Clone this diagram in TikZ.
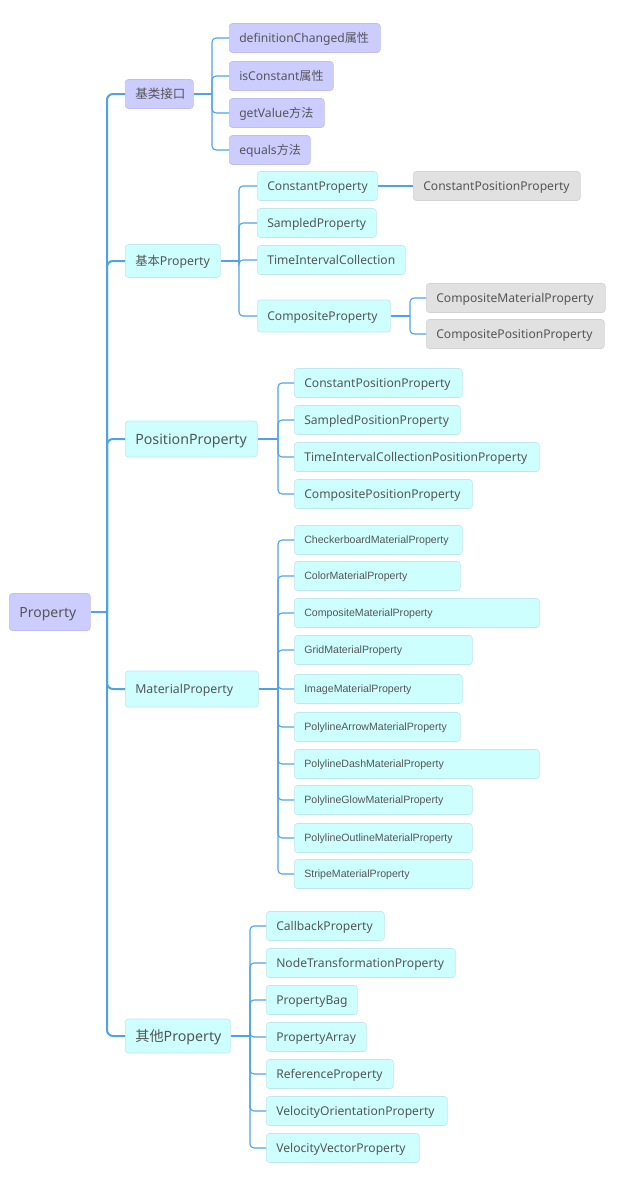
\documentclass[tikz,border=0pt]{standalone}
\usepackage{fontspec}
\setmainfont{Noto Sans}
\newfontfamily\cjk{Noto Sans CJK SC}
\newfontfamily\arialf{Liberation Sans}
\lefthyphenmin=64
\righthyphenmin=64
\definecolor{lav}{RGB}{204,204,255}
\definecolor{lavline}{RGB}{192,190,240}
\definecolor{cy}{RGB}{206,255,255}
\definecolor{cyline}{RGB}{192,230,238}
\definecolor{gr}{RGB}{225,225,225}
\definecolor{grline}{RGB}{210,210,210}
\definecolor{conn}{RGB}{78,163,230}
\definecolor{txt}{RGB}{85,85,85}
\tikzset{
  box/.style={rounded corners=3pt, anchor=west, inner xsep=10pt, inner ysep=0pt,
    minimum height=29pt, align=left, text=txt, line width=0.6pt,
    font=\fontsize{12.1}{14}\selectfont, text height=8.6pt, text depth=0pt},
  lavbox/.style={box, fill=lav, draw=lavline},
  cybox/.style={box, fill=cy, draw=cyline},
  grbox/.style={box, fill=gr, draw=grline},
  matbox/.style={cybox, font=\arialf\fontsize{10.6}{12}\selectfont, text height=7.6pt},
  big/.style={font=\fontsize{#1}{16}\selectfont, text height=0.714*#1pt},
  link/.style={draw=conn, line width=1.1pt, rounded corners=4pt},
  trunk/.style={draw=conn, line width=2pt, rounded corners=6pt},
}
\begin{document}
\begin{tikzpicture}[x=1pt,y=-1pt]
\useasboundingbox (0,0) rectangle (619,1200);
% root
\node[lavbox, minimum height=37pt, text width=61pt, font=\fontsize{14}{16}\selectfont, text height=10pt] (root) at (9,612) {Property};
% level 1
\node[lavbox, text width=48pt, font=\fontsize{12.5}{15}\selectfont, text height=9pt] (b1) at (125,94) {\cjk 基类接口};
\node[cybox, minimum height=33pt, text width=75pt, font=\fontsize{12.3}{15}\selectfont, text height=8.8pt] (b2) at (125,261) {{\cjk 基本}Property};
\node[cybox, minimum height=36pt, text width=112pt, font=\fontsize{14.2}{16}\selectfont, text height=10.1pt] (b3) at (125,439) {PositionProperty};
\node[cybox, minimum height=36pt, text width=113pt, font=\fontsize{12.3}{15}\selectfont, text height=8.8pt] (b4) at (125,689) {MaterialProperty};
\node[cybox, minimum height=34pt, text width=85pt, font=\fontsize{14.2}{16}\selectfont, text height=10.1pt] (b5) at (125,1036) {{\cjk 其他}Property};
% trunk
\coordinate (tk) at (107,612);
\draw[trunk] (root.east) -- (tk);
\foreach \n in {b1,b2,b3,b4,b5} \draw[trunk] (tk) |- (\n.west);
% base interface children
\node[lavbox, text width=131pt] (c11) at (229,38) {definitionChanged{\cjk 属性}};
\node[lavbox, text width=84pt] (c12) at (229,76) {isConstant{\cjk 属性}};
\node[lavbox, text width=75pt] (c13) at (229,113) {getValue{\cjk 方法}};
\node[lavbox, text width=61pt] (c14) at (229,150) {equals{\cjk 方法}};
\coordinate (k1) at (212,94);
\draw[link] (b1.east) -- (k1);
\foreach \n in {c11,c12,c13,c14} \draw[link] (k1) |- (\n.west);
% basic property children
\node[cybox, text width=100pt] (c21) at (257,186) {ConstantProperty};
\node[cybox, text width=99pt] (c22) at (257,223) {SampledProperty};
\node[cybox, text width=128pt] (c23) at (257,260) {TimeIntervalCollection};
\node[cybox, minimum height=32pt, text width=113pt] (c24) at (257,316) {CompositeProperty};
\coordinate (k2) at (239,261);
\draw[link] (b2.east) -- (k2);
\foreach \n in {c21,c22,c23,c24} \draw[link] (k2) |- (\n.west);
\node[grbox, text width=147pt] (d1) at (413,186) {ConstantPositionProperty};
\draw[link] (c21.east) -- (d1.west);
\node[grbox, text width=159pt] (d2) at (426,298) {CompositeMaterialProperty};
\node[grbox, text width=158pt] (d3) at (426,334) {CompositePositionProperty};
\coordinate (k3) at (410,316);
\draw[link] (c24.east) -- (k3);
\foreach \n in {d2,d3} \draw[link] (k3) |- (\n.west);
% position property children
\node[cybox, text width=148pt] (c31) at (294,383) {ConstantPositionProperty};
\node[cybox, text width=146pt] (c32) at (294,420) {SampledPositionProperty};
\node[cybox, text width=225pt] (c33) at (294,457) {TimeIntervalCollectionPositionProperty};
\node[cybox, text width=158pt] (c34) at (294,494) {CompositePositionProperty};
\coordinate (k4) at (278,439);
\draw[link] (b3.east) -- (k4);
\foreach \n in {c31,c32,c33,c34} \draw[link] (k4) |- (\n.west);
% material property children
\node[matbox, text width=148pt] (m1) at (294,540) {CheckerboardMaterialProperty};
\node[matbox, text width=146pt] (m2) at (294,576) {ColorMaterialProperty};
\node[matbox, text width=225pt] (m3) at (294,613) {CompositeMaterialProperty};
\node[matbox, text width=158pt] (m4) at (294,650) {GridMaterialProperty};
\node[matbox, text width=148pt] (m5) at (294,689) {ImageMaterialProperty};
\node[matbox, text width=146pt] (m6) at (294,727) {PolylineArrowMaterialProperty};
\node[matbox, text width=225pt] (m7) at (294,764) {PolylineDashMaterialProperty};
\node[matbox, text width=158pt] (m8) at (294,800) {PolylineGlowMaterialProperty};
\node[matbox, text width=158pt] (m9) at (294,838) {PolylineOutlineMaterialProperty};
\node[matbox, text width=158pt] (m10) at (294,874) {StripeMaterialProperty};
\coordinate (k5) at (278,689);
\draw[link] (b4.east) -- (k5);
\foreach \n in {m1,m2,m3,m4,m5,m6,m7,m8,m9,m10} \draw[link] (k5) |- (\n.west);
% other property children
\node[cybox, text width=98pt] (o1) at (266,926) {CallbackProperty};
\node[cybox, text width=169pt] (o2) at (266,963) {NodeTransformationProperty};
\node[cybox, text width=71pt] (o3) at (266,1000) {PropertyBag};
\node[cybox, text width=80pt] (o4) at (266,1037) {PropertyArray};
\node[cybox, text width=107pt] (o5) at (266,1074) {ReferenceProperty};
\node[cybox, text width=161pt] (o6) at (266,1111) {VelocityOrientationProperty};
\node[cybox, text width=133pt] (o7) at (266,1148) {VelocityVectorProperty};
\coordinate (k6) at (250,1036);
\draw[link] (b5.east) -- (k6);
\foreach \n in {o1,o2,o3,o4,o5,o6,o7} \draw[link] (k6) |- (\n.west);
\end{tikzpicture}
\end{document}
